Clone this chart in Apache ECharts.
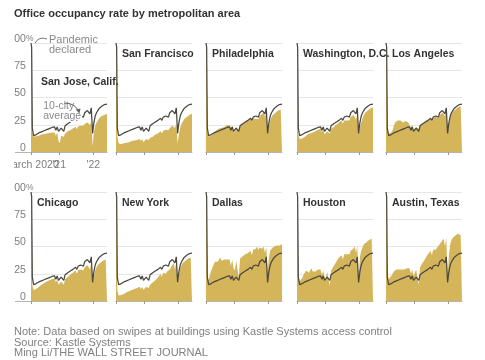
<!DOCTYPE html>
<html><head><meta charset="utf-8">
<script src="https://cdn.jsdelivr.net/npm/echarts@6/dist/echarts.min.js"></script>
<style>html,body{margin:0;padding:0;background:#fff}#c{width:485px;height:360px}</style>
</head><body><div id="c"></div>
<script>
// weeks since 4 March 2020
const weeks = [0,1,2,4,6,8,10,12,14,16,18,20,22,24,26,28,30,32,34,36,38,40,42,44,46,48,50,52,54,56,58,60,62,64,66,68,70,72,74,76,78,80,82,84,86,88,90,92,94,96,98,100,102,104,106,108,110,112,114,116];
const tickWeeks = [0, 43, 95];
const tickLabels = ['March 2020', "'21", "'22"];
const cities = ['San Jose, Calif.', 'San Francisco', 'Philadelphia', 'Washington, D.C.', 'Los Angeles', 'Chicago', 'New York', 'Dallas', 'Houston', 'Austin, Texas'];

const tenCityAverage = [100,96,22,15,15,16,17,17.5,18,18.5, 19,19.5,20,20.5,21,21.5,22,22.5,23,23, 20,23,19,18,22,23,19,24,25,26, 27,27.5,28,29,30,31,29,32,32.5,33, 34,32,36,37,38,39.5,35,40.5,17,27, 33,36,38,40,41,42,43,43.5,44,44];
const sanJose = [100,96,18,14,14,14.5,15,15,15.5,16, 16,16.5,16.5,17,17,17.5,17.5,18,18,18, 15,18,10,8,15,16,14,17,18,19, 19.5,20,21,21.5,22,23,21,23.5,24,24, 25,24,26,26.5,27,28,25,28,5,18, 24,27,29,31,32,33,34,34,34.5,35];
const sanFrancisco = [100,96,15,8,7,7,7.5,8,8,8.5, 9,9,9.5,10,10,10.5,11,11,11.5,12, 10,12,9,9,12,12.5,11,13,13.5,14, 15,16,16.5,17,18,19,17,19.5,20,20.5, 21,20,22,23,24,25,22,26,8,16, 22,26,28,30,31,32,33,34,34,35];
const philadelphia = [100,96,20,14,14,15,16,17.5,19,20, 21,21.5,22,22,22,23,24,24.5,25,25, 21,24,20,18,23,24,20,24,25,26, 27,27.5,28,29,30,31,28,31,31,30.5, 31,30,33,34,35,37,32,38,17,23, 29,32,34,35,36,37,38,38,39,39];
const washington = [100,96,16,12,12,12.5,13,14,15,16, 16.5,17,17.5,18,18,19,20,20.5,21,21, 18,21,16,15,19,20,17,21,22,23, 24,25,26,27,28,29,26,29,29.5,29, 30,29,32,33,34,35,30,35,16,22, 27,31,34,36,37,38,39,40,40,41];
const losAngeles = [100,96,20,17,17,18,20,24,27,28, 29,28,29,28,27,28,28.5,28,27,26, 22,25,20,19,23,24,21,25,25,26, 27,28,28.5,29,30,31,28,31.5,32,32, 33,31,34,35,36,37.5,33,38,18,26, 32,35,37,38,39,40,41,42,42,43];
const chicago = [100,96,15,10,10,11,12,13,14,15, 16,16.5,17,18,18,19,20,20,21,21, 17,20,15,14,18,19,15,20,21,22, 23,24,25,26,27,28,25,28.5,29,29, 30,28,31,32,33,34,29,35,16,22, 28,31,33,34,35,36,37,37.5,38,38.5];
const newYork = [100,96,10,5,5,5.5,6,6.5,7,8, 8.5,9,9.5,10,10,11,12,12,12.5,13, 11,13,10,10,13,14,12,15,16,17, 18,19,20,21.5,23,25,22,26,26,25, 27,26,29,31,33,35,29,36,15,24, 30,33,35,36,37,38,39,39.5,40,40];
const dallas = [100,96,22,19,24,28,31,34,36,37, 36,38,40,37,36,38,37,38,39,38, 32,38,30,28,37,38,22,39,40,41, 42,43,42,44,45,46,42,47,46,48, 50,47,49,50,48,50,44,50,25,40, 46,48,49,50,50,51,52,51,52,52];
const houston = [100,96,25,18,19,21,24,26,28,27, 26,28,30,27,26,27,28,29,28,29, 24,28,22,20,27,28,14,28,30,32, 34,36,38,40,41,42,38,43,44,43, 44,43,46,47,48,50,44,51,20,40, 46,49,52,53,54,55,56,57,57,56];
const austin = [100,96,28,20,21,23,25,27,28,29, 28,29,30,29,28,29,30,30,31,30, 25,29,23,22,29,30,15,31,33,35, 37,39,41,43,44,46,42,47,48,47, 49,48,52,54,55,57,50,58,20,42, 52,56,58,59,60,61,62,61,60,61];
const cityValues = [sanJose, sanFrancisco, philadelphia, washington, losAngeles, chicago, newYork, dallas, houston, austin];

const FONT = '"Liberation Sans", Arial, sans-serif';
const GOLD = '#d5b55a';
const LINE = '#4a4841';
const GRAY = '#7d7d7d';
const colLefts = [31, 116, 206, 297, 386];
const rowTops = [43, 192];
const PW = 76, PH = 109;
const XMAX = 116;

const labelFmt = v => { const k = tickWeeks.indexOf(v); return k >= 0 ? tickLabels[k] : ''; };
const grids = [], xAxes = [], yAxes = [], series = [], graphics = [];
cities.forEach((name, i) => {
  const r = Math.floor(i / 5), c = i % 5;
  grids.push({left: colLefts[c], top: rowTops[r], width: PW, height: PH});
  xAxes.push({
    type: 'value', gridIndex: i, min: 0, max: XMAX, position: 'bottom',
    axisLine: {show: true, lineStyle: {color: '#b5b5b5', width: 1}},
    axisTick: {show: true, customValues: tickWeeks, length: 3, lineStyle: {color: '#999'}},
    axisLabel: {show: i === 0, customValues: [tickWeeks[0], tickWeeks[2]], hideOverlap: false,
      color: GRAY, fontFamily: FONT, fontSize: 10.5, margin: 8, formatter: labelFmt},
    splitLine: {show: false}
  });
  yAxes.push({
    type: 'value', gridIndex: i, min: 0, max: 100, interval: 25,
    axisLine: {show: false}, axisTick: {show: false},
    splitLine: {lineStyle: {color: '#e6e6e6', width: 1}},
    axisLabel: {show: c === 0, margin: -2.5, verticalAlign: 'middle', padding: [0, 0, 8, 0],
      formatter: v => v === 100 ? '{n|100}{p|%}' : '{n|' + v + '}{h|%}',
      rich: {
        n: {color: GRAY, fontFamily: FONT, fontSize: 10.5},
        p: {color: GRAY, fontFamily: FONT, fontSize: 8.5},
        h: {color: 'rgba(0,0,0,0)', fontFamily: FONT, fontSize: 8.5}
      }}
  });
  series.push({type: 'line', xAxisIndex: i, yAxisIndex: i, silent: true, showSymbol: false, z: 2,
    data: weeks.map((w, k) => [w, cityValues[i][k]]),
    lineStyle: {width: 0, opacity: 0}, areaStyle: {color: GOLD, opacity: 1}});
  series.push({type: 'line', xAxisIndex: i, yAxisIndex: i, silent: true, showSymbol: false, z: 3,
    data: weeks.map((w, k) => [w, tenCityAverage[k]]),
    lineStyle: {width: 1.25, color: LINE}});
  const isFirst = i === 0;
  graphics.push({type: 'text', z: 50,
    left: isFirst ? colLefts[c] + 10 : colLefts[c] + 6,
    top: isFirst ? rowTops[r] + 34 : rowTops[r] + 6,
    style: {text: name, fill: '#333', fontFamily: FONT, fontWeight: 'bold', fontSize: 10.5}});
});
// second label axis on the first panel so the "'21" label is not dropped by overlap handling
xAxes.push({
  type: 'value', gridIndex: 0, min: 0, max: XMAX, position: 'bottom',
  axisLine: {show: false}, axisTick: {show: false}, splitLine: {show: false},
  axisLabel: {show: true, customValues: [tickWeeks[1]], color: GRAY, fontFamily: FONT, fontSize: 10.5, margin: 8, formatter: labelFmt}
});

graphics.push(
  {type: 'text', left: 14, top: 8, z: 50,
   style: {text: 'Office occupancy rate by metropolitan area', fill: '#333', fontFamily: FONT, fontWeight: 'bold', fontSize: 11}},
  {type: 'text', left: 14, top: 326.5, z: 50,
   style: {text: 'Note: Data based on swipes at buildings using Kastle Systems access control\nSource: Kastle Systems\nMing Li/THE WALL STREET JOURNAL',
           fill: '#808080', fontFamily: FONT, fontSize: 11, lineHeight: 10.5}},
  {type: 'text', left: 49, top: 34, z: 50,
   style: {text: 'Pandemic\ndeclared', fill: '#8a8a8a', fontFamily: FONT, fontSize: 11, lineHeight: 10.5}},
  {type: 'bezierCurve', z: 50, shape: {x1: 35, y1: 43, cpx1: 39, cpy1: 36, x2: 47, y2: 39},
   style: {stroke: '#777', lineWidth: 1, fill: null}},
  {type: 'text', left: 42, top: 99, z: 50,
   style: {text: '10-city\naverage', fill: '#8a8a8a', fontFamily: FONT, fontSize: 10.5, lineHeight: 10.5,
           stroke: '#fff', lineWidth: 2.5}},
  {type: 'bezierCurve', z: 50, shape: {x1: 64, y1: 103, cpx1: 74, cpy1: 103, x2: 78, y2: 110},
   style: {stroke: '#666', lineWidth: 1, fill: null}},
  {type: 'polygon', z: 50, shape: {points: [[75.5, 109.5], [80.5, 108.5], [79.5, 113.5]]}, style: {fill: '#666'}},
  {type: 'line', z: 1, shape: {x1: 15, y1: 152.5, x2: 31, y2: 152.5}, style: {stroke: '#b5b5b5', lineWidth: 1}},
  {type: 'line', z: 1, shape: {x1: 15, y1: 301.5, x2: 31, y2: 301.5}, style: {stroke: '#b5b5b5', lineWidth: 1}},
  {type: 'rect', z: 100, shape: {x: 0, y: 0, width: 14, height: 360}, style: {fill: '#fff'}}
);

const chart = echarts.init(document.getElementById('c'), null, {renderer: 'canvas'});
chart.setOption({
  animation: false,
  backgroundColor: '#fff',
  grid: grids, xAxis: xAxes, yAxis: yAxes, series: series,
  graphic: {elements: graphics}
});
</script></body></html>
